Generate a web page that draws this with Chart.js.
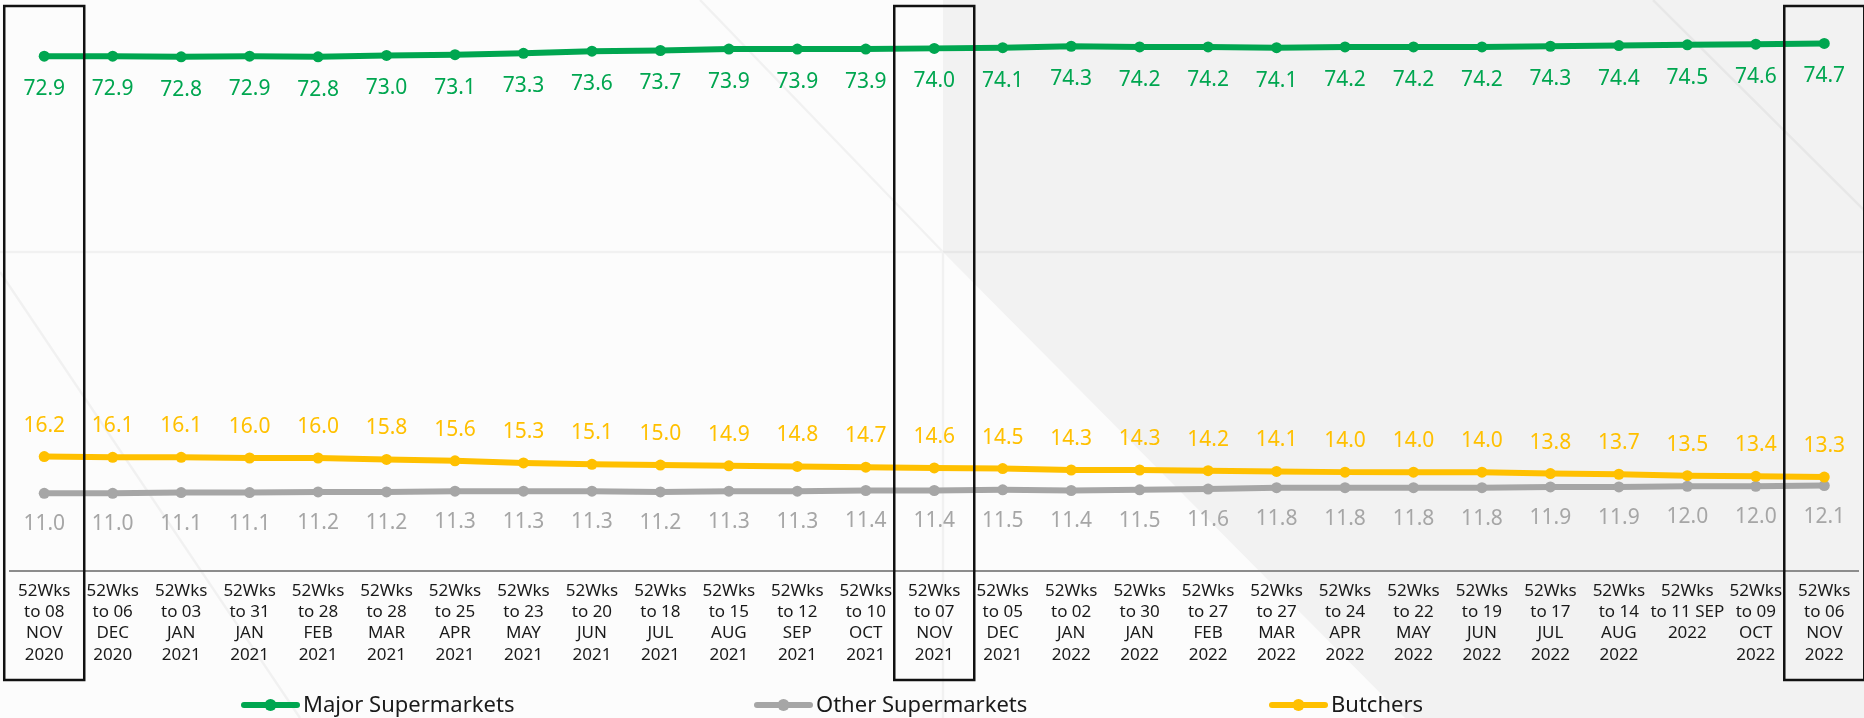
<!DOCTYPE html>
<html>
<head>
<meta charset="utf-8">
<script src="https://cdn.jsdelivr.net/npm/chart.js@4.4.1/dist/chart.umd.min.js"></script>
<style>
  html, body { margin: 0; padding: 0; background: #fcfcfc; }
  canvas { display: block; }
</style>
</head>
<body>
<canvas id="share" width="1864" height="718"></canvas>
<script>
// 52-week periods (each tick label split into its printed lines)
const periods = [
  ['52Wks', 'to 08', 'NOV', '2020'],
  ['52Wks', 'to 06', 'DEC', '2020'],
  ['52Wks', 'to 03', 'JAN', '2021'],
  ['52Wks', 'to 31', 'JAN', '2021'],
  ['52Wks', 'to 28', 'FEB', '2021'],
  ['52Wks', 'to 28', 'MAR', '2021'],
  ['52Wks', 'to 25', 'APR', '2021'],
  ['52Wks', 'to 23', 'MAY', '2021'],
  ['52Wks', 'to 20', 'JUN', '2021'],
  ['52Wks', 'to 18', 'JUL', '2021'],
  ['52Wks', 'to 15', 'AUG', '2021'],
  ['52Wks', 'to 12', 'SEP', '2021'],
  ['52Wks', 'to 10', 'OCT', '2021'],
  ['52Wks', 'to 07', 'NOV', '2021'],
  ['52Wks', 'to 05', 'DEC', '2021'],
  ['52Wks', 'to 02', 'JAN', '2022'],
  ['52Wks', 'to 30', 'JAN', '2022'],
  ['52Wks', 'to 27', 'FEB', '2022'],
  ['52Wks', 'to 27', 'MAR', '2022'],
  ['52Wks', 'to 24', 'APR', '2022'],
  ['52Wks', 'to 22', 'MAY', '2022'],
  ['52Wks', 'to 19', 'JUN', '2022'],
  ['52Wks', 'to 17', 'JUL', '2022'],
  ['52Wks', 'to 14', 'AUG', '2022'],
  ['52Wks', 'to 11 SEP', '2022'],
  ['52Wks', 'to 09', 'OCT', '2022'],
  ['52Wks', 'to 06', 'NOV', '2022']
];

// Value share (%) by channel
const majorSupermarkets = [72.9, 72.9, 72.8, 72.9, 72.8, 73.0, 73.1, 73.3, 73.6, 73.7, 73.9, 73.9, 73.9, 74.0,
                           74.1, 74.3, 74.2, 74.2, 74.1, 74.2, 74.2, 74.2, 74.3, 74.4, 74.5, 74.6, 74.7];
const otherSupermarkets = [11.0, 11.0, 11.1, 11.1, 11.2, 11.2, 11.3, 11.3, 11.3, 11.2, 11.3, 11.3, 11.4, 11.4,
                           11.5, 11.4, 11.5, 11.6, 11.8, 11.8, 11.8, 11.8, 11.9, 11.9, 12.0, 12.0, 12.1];
const butchers          = [16.2, 16.1, 16.1, 16.0, 16.0, 15.8, 15.6, 15.3, 15.1, 15.0, 14.9, 14.8, 14.7, 14.6,
                           14.5, 14.3, 14.3, 14.2, 14.1, 14.0, 14.0, 14.0, 13.8, 13.7, 13.5, 13.4, 13.3];

// Periods framed with a box (year-on-year comparison points)
const framedPeriods = [0, 13, 26];

const GREEN = '#00a650';
const GREY = '#a6a6a6';
const YELLOW = '#ffc000';
const FONT = "'Noto Sans', 'Open Sans', sans-serif";

// Soft slide background with a light grey angled panel
const backdrop = {
  id: 'backdrop',
  beforeDraw(chart) {
    const { ctx, width, height } = chart;
    ctx.save();
    ctx.fillStyle = '#fcfcfc';
    ctx.fillRect(0, 0, width, height);
    ctx.fillStyle = '#f2f2f2';
    ctx.beginPath();
    ctx.moveTo(943, 0);
    ctx.lineTo(width, 0);
    ctx.lineTo(width, height);
    ctx.lineTo(1405, height);
    ctx.lineTo(943, 252);
    ctx.closePath();
    ctx.fill();
    ctx.strokeStyle = 'rgba(0,0,0,0.045)';
    ctx.lineWidth = 2.5;
    ctx.beginPath();
    ctx.moveTo(0, 252); ctx.lineTo(width, 252);
    ctx.moveTo(943, 252); ctx.lineTo(943, height);
    ctx.moveTo(700, 0); ctx.lineTo(943, 252);
    ctx.moveTo(0, 272); ctx.lineTo(300, 718);
    ctx.moveTo(1653, 0); ctx.lineTo(width, 210);
    ctx.stroke();
    ctx.restore();
  }
};

// Value labels next to every point
const labelOffsets = [33, 31, -31];
const valueLabels = {
  id: 'valueLabels',
  afterDatasetsDraw(chart) {
    const { ctx } = chart;
    ctx.save();
    ctx.font = `21px ${FONT}`;
    ctx.textAlign = 'center';
    ctx.textBaseline = 'middle';
    chart.data.datasets.forEach((ds, di) => {
      const meta = chart.getDatasetMeta(di);
      ctx.fillStyle = ds.borderColor;
      meta.data.forEach((pt, i) => {
        ctx.fillText(ds.data[i].toFixed(1), pt.x, pt.y + labelOffsets[di]);
      });
    });
    ctx.restore();
  }
};

// Black frames around the highlighted periods
const periodFrames = {
  id: 'periodFrames',
  afterDraw(chart) {
    const { ctx, chartArea } = chart;
    const x = chart.scales.x;
    const half = 40;
    ctx.save();
    ctx.strokeStyle = '#111';
    ctx.lineWidth = 2.5;
    framedPeriods.forEach(i => {
      const cx = x.getPixelForValue(i);
      ctx.strokeRect(cx - half, chartArea.top, half * 2, 680 - chartArea.top);
    });
    ctx.restore();
  }
};

// Legend row: line-with-dot marker followed by the series name
const legendStarts = [244, 757, 1272];
const lineLegend = {
  id: 'lineLegend',
  afterDraw(chart) {
    const { ctx } = chart;
    const y = 705;
    ctx.save();
    ctx.font = `22px ${FONT}`;
    ctx.textBaseline = 'middle';
    ctx.textAlign = 'left';
    chart.data.datasets.forEach((ds, di) => {
      const x0 = legendStarts[di];
      ctx.strokeStyle = ds.borderColor;
      ctx.lineWidth = 6;
      ctx.lineCap = 'round';
      ctx.beginPath();
      ctx.moveTo(x0, y); ctx.lineTo(x0 + 53, y);
      ctx.stroke();
      ctx.fillStyle = ds.borderColor;
      ctx.beginPath();
      ctx.arc(x0 + 26.5, y, 6, 0, Math.PI * 2);
      ctx.fill();
      ctx.fillStyle = '#1a1a1a';
      ctx.fillText(ds.label, x0 + 59, y + 1);
    });
    ctx.restore();
  }
};

const lineStyle = (label, data, colour, order) => ({
  label, data, order,
  borderColor: colour,
  backgroundColor: colour,
  borderWidth: 6,
  pointRadius: 5.5,
  pointHoverRadius: 5.5,
  pointBackgroundColor: colour,
  pointBorderWidth: 0,
  tension: 0,
  fill: false
});

new Chart(document.getElementById('share'), {
  type: 'line',
  data: {
    labels: periods,
    datasets: [
      lineStyle('Major Supermarkets', majorSupermarkets, GREEN, 0),
      lineStyle('Other Supermarkets', otherSupermarkets, GREY, 2),
      lineStyle('Butchers', butchers, YELLOW, 1)
    ]
  },
  options: {
    responsive: false,
    animation: false,
    events: [],
    layout: { padding: { top: 6, left: 10, right: 4, bottom: 0 } },
    plugins: {
      legend: { display: false },
      tooltip: { enabled: false },
      title: { display: false }
    },
    scales: {
      x: {
        type: 'category',
        offset: true,
        grid: { display: false, drawTicks: false },
        border: { display: true, color: '#8c8c8c', width: 2 },
        ticks: {
          autoSkip: false,
          maxRotation: 0,
          minRotation: 0,
          padding: 9,
          color: '#1a1a1a',
          font: { family: FONT, size: 17, lineHeight: 1.26 }
        },
        afterFit(scale) { scale.height = 147; }
      },
      y: {
        display: false,
        min: 0,
        max: 80
      }
    }
  },
  plugins: [backdrop, valueLabels, periodFrames, lineLegend]
});
</script>
</body>
</html>
